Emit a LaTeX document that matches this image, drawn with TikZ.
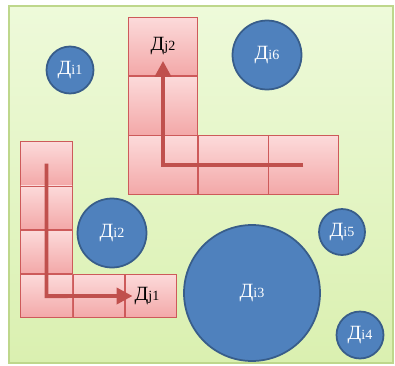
\documentclass[tikz,border=0pt]{standalone}
\usepackage{fontspec}
\setmainfont{Liberation Serif}
\usetikzlibrary{positioning,arrows.meta}

\definecolor{bgtop}{RGB}{238,250,218}
\definecolor{bgbot}{RGB}{218,240,176}
\definecolor{bgline}{RGB}{190,215,140}
\definecolor{celltop}{RGB}{252,218,218}
\definecolor{cellbot}{RGB}{243,168,168}
\definecolor{cellline}{RGB}{205,90,90}
\definecolor{discfill}{RGB}{79,129,189}
\definecolor{discline}{RGB}{56,93,138}
\definecolor{arrowred}{RGB}{192,80,77}

\newcommand{\dname}[1]{Д{\fontsize{8}{9}\selectfont #1}}

\begin{document}
\begin{tikzpicture}[x=0.02cm, y=-0.02cm,
    cell/.style={rectangle, draw=cellline, top color=celltop, bottom color=cellbot, inner sep=0pt},
    bigcell/.style={cell, minimum width=1.39cm, minimum height=1.17cm},
    smallcell/.style={cell, minimum width=1.03cm, minimum height=0.87cm},
    disc/.style={circle, draw=discline, line width=1pt, fill=discfill, text=white, inner sep=0pt, font=\fontsize{11.5}{13}\selectfont},
    route/.style={-{Triangle[length=3.2mm, width=3.2mm]}, line width=2.2pt, draw=arrowred},
    tag/.style={inner sep=1pt, font=\fontsize{11.5}{13}\selectfont},
]
\useasboundingbox (0,0) rectangle (395,365);

% ---- ground ----
\draw[draw=bgline, line width=1pt, top color=bgtop, bottom color=bgbot] (9,6) rectangle (393,363);

% ---- upper L of cells ----
\node[bigcell] (t1) at (163,46.5) {};
\node[bigcell, below=0pt of t1] (t2) {};
\node[bigcell, below=0pt of t2] (t3) {};
\node[bigcell, right=0pt of t3] (t4) {};
\node[bigcell, right=0pt of t4] (t5) {};

% ---- lower L of cells ----
\node[smallcell] (b1) at (46.5,163.5) {};
\node[smallcell, below=0pt of b1] (b2) {};
\node[smallcell, below=0pt of b2] (b3) {};
\node[smallcell, below=0pt of b3] (b4) {};
\node[smallcell, right=0pt of b4] (b5) {};
\node[smallcell, right=0pt of b5] (b6) {};

% ---- target labels ----
\node[tag] (lj2) at (t1.center) {\dname{j2}};
\node[tag] (lj1) at (147,296) {\dname{j1}};

% ---- routes ----
\draw[route, shorten >=2pt] (t5.center) -- (t3.center) -- (lj2.south);
\draw[route] (b1.center) -- (b4.center) -- (lj1.west);

% ---- discs ----
\node[disc, minimum size=0.94cm] (d1) at (70,70) {\dname{i1}};
\node[disc, minimum size=1.38cm] (d6) at (267,55) {\dname{i6}};
\node[disc, minimum size=1.38cm] (d2) at (112,233) {\dname{i2}};
\node[disc, minimum size=2.72cm] (d3) at (252,293) {\dname{i3}};
\node[disc, minimum size=0.92cm] (d5) at (342,232) {\dname{i5}};
\node[disc, minimum size=0.94cm] (d4) at (360,335) {\dname{i4}};

\end{tikzpicture}
\end{document}
